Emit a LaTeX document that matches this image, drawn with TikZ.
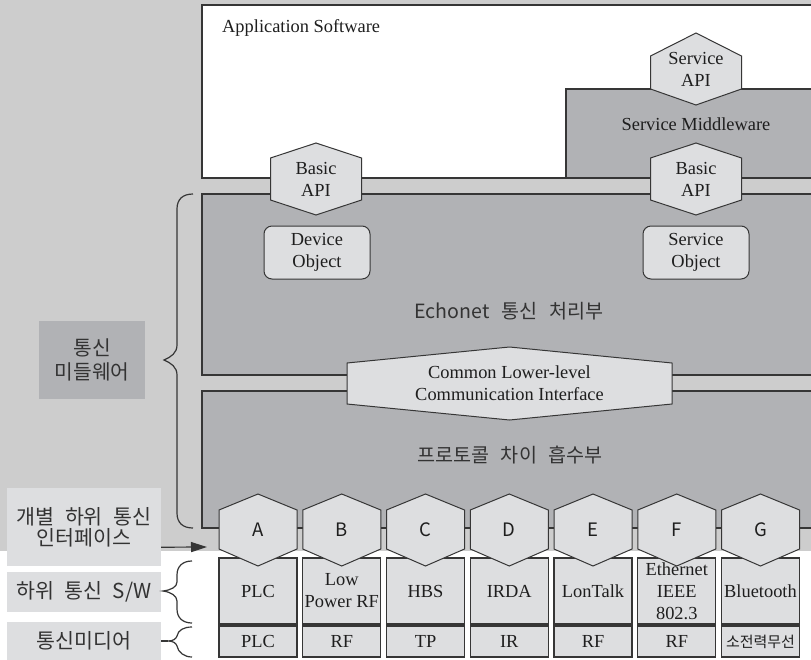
\documentclass[tikz,border=0pt]{standalone}
\usepackage{fontspec}
\setmainfont{Liberation Serif}
\newfontfamily\kf{Noto Sans CJK KR}
\usetikzlibrary{arrows.meta}

\definecolor{bggray}{HTML}{CDCDCD}
\definecolor{darkfill}{HTML}{B1B2B5}
\definecolor{lightfill}{HTML}{DDDEE0}
\definecolor{edge}{HTML}{363636}
\definecolor{ink}{HTML}{1E1E1E}
\definecolor{kink}{HTML}{333333}

\newcommand\srfsize{\fontsize{18.4}{22}\selectfont}
\newcommand\korsize{\kf\fontsize{19.6}{21}\selectfont}
\newcommand\tagsize{\kf\fontsize{20.6}{21}\selectfont}
\newcommand\wsp{\hspace{0.5em}}

% hexagon with vertical sides: name, centre x, half width, top, upper corner, lower corner, bottom, text
\newcommand\hexnode[8]{%
  \filldraw[hexa] (#2-#3,#5) -- (#2,#4) -- (#2+#3,#5) -- (#2+#3,#6) -- (#2,#7) -- (#2-#3,#6) -- cycle;
  \node[inner sep=0pt, align=center, text=ink, font=\srfsize] (#1) at (#2,{(#4+#7)/2}) {#8};}

\begin{document}
\begin{tikzpicture}[x=1pt, y=-1pt,
  srf/.style={font=\srfsize, text=ink, align=center, inner sep=0pt},
  kor/.style={font=\korsize, text=kink, align=center, inner sep=0pt},
  panel/.style={draw=edge, line width=1.3pt, inner sep=0pt, outer sep=0pt},
  hexa/.style={draw=edge, line width=1pt, fill=lightfill},
  cell/.style={draw=edge, line width=1.1pt, fill=lightfill, minimum width=78pt,
    inner sep=0pt, text=ink, align=center, font=\srfsize},
  objbox/.style={draw=edge, line width=1pt, fill=lightfill, rounded corners=8pt,
    minimum width=106pt, minimum height=53pt, srf},
  tag/.style={fill=lightfill, minimum width=154pt, kor, font=\tagsize},
  brace/.style={draw=edge, line width=1.2pt},
]
\useasboundingbox (0,0) rectangle (811,659);
\clip (0,0) rectangle (811,659);

% backdrop
\fill[bggray] (0,0) rectangle (811,551);
\fill[white] (0,551) rectangle (811,659);

% layers
\node[panel, fill=white, minimum width=613pt, minimum height=173pt] (app) at (508.5,91.5) {};
\node[srf, anchor=base west] (apptxt) at (222,32) {Application Software};
\node[panel, fill=darkfill, minimum width=249pt, minimum height=89pt] (mw) at (690.5,133.5) {};
\node[srf] (mwtxt) at (696,124) {Service Middleware};
\node[panel, fill=darkfill, minimum width=613pt, minimum height=181pt] (echo) at (508.5,284.5) {};
\node[panel, fill=darkfill, minimum width=613pt, minimum height=137pt] (proto) at (508.5,459.5) {};

\node[kor] (echotxt) at (509,311) {Echonet\hspace{0.6em}통신\hspace{0.6em}처리부};
\node[kor] (prototxt) at (510,455) {프로토콜\hspace{0.6em}차이\hspace{0.6em}흡수부};

% objects
\node[objbox] (devobj) at (317,252.5) {Device\\Object};
\node[objbox] (svcobj) at (696,252.5) {Service\\Object};

% interfaces
\hexnode{common}{509.5}{162.5}{347}{363}{404}{420}{Common Lower-level\\Communication Interface}
\hexnode{bapileft}{316}{45.5}{143}{158}{200}{215}{Basic\\API}
\hexnode{bapiright}{696}{45.5}{143}{158}{200}{215}{Basic\\API}
\hexnode{sapi}{696}{45.5}{33}{56}{89}{105}{\fontsize{18.4}{21}\selectfont Service\\API}

% left-hand labels
\node[fill=darkfill, minimum width=106pt, minimum height=78pt, kor,
  font=\kf\fontsize{20.3}{24}\selectfont] (lblmid) at (92,360) {통신\\미들웨어};
\node[tag, minimum height=78pt] (lblif) at (84,527) {개별\wsp 하위\wsp 통신\\인터페이스};
\node[tag, minimum height=40pt] (lblsw) at (84,592) {하위\wsp 통신\wsp S/W};
\node[tag, minimum height=38pt] (lblmedia) at (84,641) {통신미디어};

% braces
\draw[brace] (193,194) .. controls (183,194) and (177,199) .. (177,209) -- (177,345)
  .. controls (177,353) and (171,357) .. (164,360)
  .. controls (171,363) and (177,367) .. (177,375) -- (177,513)
  .. controls (177,523) and (183,528) .. (193,528);
\draw[brace] (192,561) .. controls (183,561) and (177,566) .. (177,575) -- (177,582)
  .. controls (177,587) and (171,590) .. (163,591)
  .. controls (171,592) and (177,596) .. (177,601) -- (177,609)
  .. controls (177,618) and (183,623) .. (192,623);
\coordinate (mtip) at (168,641);
\draw[brace] (192,627) .. controls (184,627) and (178,630) .. (177,636)
  .. controls (176,639) and (173,641) .. (mtip)
  .. controls (173,641) and (176,643) .. (177,646)
  .. controls (178,652) and (184,657) .. (192,657);
\draw[brace] (lblmedia.east) -- (mtip);

% per-medium columns
\foreach \i/\L/\sw/\md in {0/A/PLC/PLC, 1/B/{Low\\Power RF}/RF, 2/C/HBS/TP, 3/D/IRDA/IR,
    4/E/LonTalk/RF, 5/F/{\fontsize{18.4}{20}\selectfont Ethernet\\IEEE\\802.3}/RF,
    6/G/Bluetooth/{\kf\fontsize{15}{18}\selectfont 소전력무선}} {
  \pgfmathsetmacro\cx{258+83.75*\i}
  \node[cell, minimum height=66pt] (sw\L) at (\cx,591) {\sw};
  \node[cell, minimum height=31pt] (md\L) at (\cx,641.5) {\md};
  \hexnode{hex\L}{\cx}{39}{494}{510}{549}{566}{\kf\fontsize{18.5}{20}\selectfont\L}
}

% arrow into the interface row
\coordinate (ifarrow) at (207,547);
\draw[draw=edge, line width=1.2pt, -{Triangle[length=16pt,width=10pt]}]
  ([yshift=19pt]lblif.south east) -- (ifarrow);
\end{tikzpicture}
\end{document}
